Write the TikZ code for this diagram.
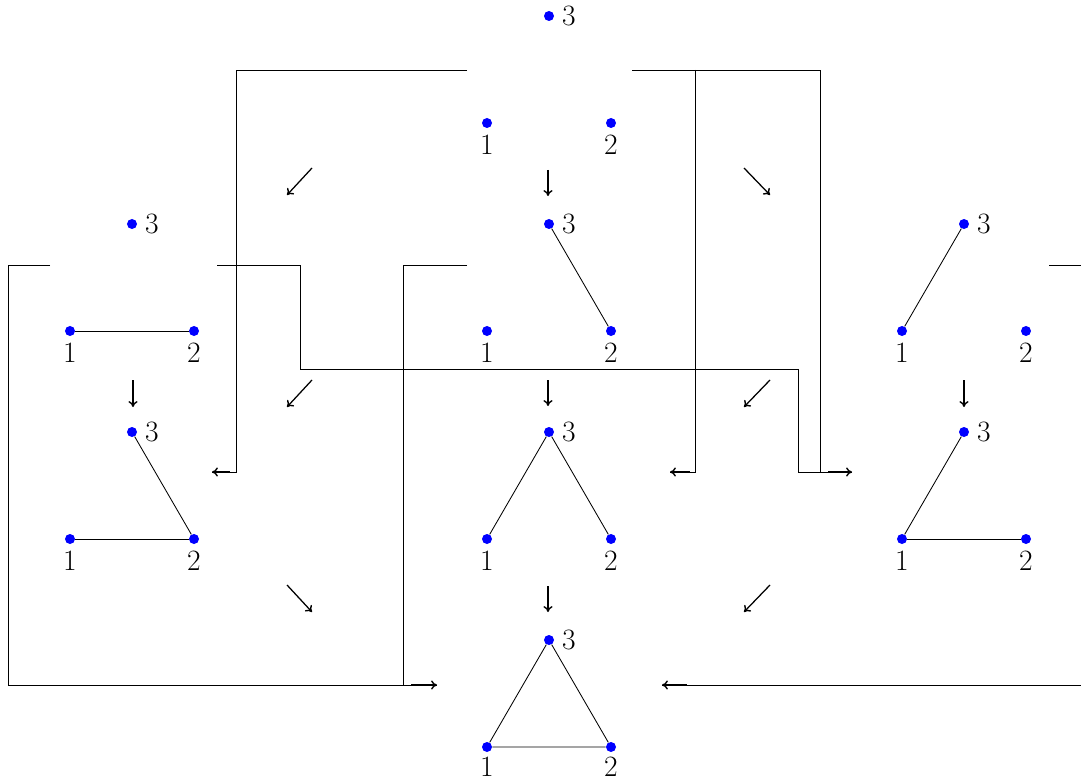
\documentclass[tikz,border=0pt]{standalone}
\usetikzlibrary{arrows.meta}
\begin{document}
\begin{tikzpicture}[x=0.025cm,y=-0.025cm,
  vtx/.style={circle,fill=blue,inner sep=0pt,minimum size=0.25cm},
  lbl/.style={inner sep=0pt,font=\fontsize{21}{25}\selectfont},
  edge/.style={line width=0.6pt},
  tip/.style={-{To[length=4.2pt,width=6.5pt,line width=1pt]}},
  mor/.style={tip,line width=0.9pt},
  wire/.style={line width=0.6pt}]
\useasboundingbox (0,0) rectangle (1081,782);
\newcommand\gph[4]{%
  \node[vtx] (#1a) at (#2,#3) {};
  \node[vtx] (#1b) at ({#2+124},#3) {};
  \node[vtx] (#1c) at ({#2+62},{#3-107}) {};
  \node[lbl] (#1la) at (#2,{#3+#4}) {1};
  \node[lbl] (#1lb) at ({#2+124},{#3+#4}) {2};
  \node[lbl] (#1lc) at ({#2+82},{#3-107}) {3};
}
\newcommand\mymor[5]{%
  \coordinate (#1s) at (#2,#3);
  \coordinate (#1e) at (#4,#5);
  \draw[mor] (#1s) -- (#1e);
}
% graphs
\gph{T}{487}{123}{22}
\gph{LA}{70}{331}{22}
\gph{CA}{487}{331}{22}
\gph{RA}{902}{331}{22}
\gph{LB}{70}{539}{22}
\gph{CB}{487}{539}{22}
\gph{RB}{902}{539}{22}
\gph{B}{487}{747}{20}
% edges
\draw[edge] (LAa) -- (LAb);
\draw[edge] (CAc) -- (CAb);
\draw[edge] (RAc) -- (RAa);
\draw[edge] (LBa) -- (LBb);
\draw[edge] (LBc) -- (LBb);
\draw[edge] (CBc) -- (CBa);
\draw[edge] (CBc) -- (CBb);
\draw[edge] (RBc) -- (RBa);
\draw[edge] (RBa) -- (RBb);
\draw[edge] (Ba) -- (Bb) -- (Bc) -- (Ba);
% short morphisms
\mymor{d1}{548}{170}{548}{196}
\mymor{d2}{548}{380}{548}{406}
\mymor{d3}{548}{586}{548}{612}
\mymor{d4}{133}{380}{133}{407}
\mymor{d5}{964}{380}{964}{407}
\mymor{g1}{312}{168}{287}{195}
\mymor{g2}{744}{168}{770}{195}
\mymor{g3}{312}{380}{287}{407}
\mymor{g4}{770}{380}{744}{407}
\mymor{g5}{287}{585}{312}{612}
\mymor{g6}{770}{585}{744}{612}
% long wires
\coordinate (w1s) at (467,70);  \coordinate (w1e) at (212,472);
\draw[wire] (w1s) -- (236,70) -- (236,472) -- (w1e);
\draw[mor] (230,472) -- (w1e);
\coordinate (w2s) at (632,70);  \coordinate (w2e) at (852,472);
\draw[wire] (w2s) -- (820,70) -- (820,472) -- (w2e);
\draw[mor] (828,472) -- (w2e);
\coordinate (w3s) at (695,70);  \coordinate (w3e) at (670,472);
\draw[wire] (w3s) -- (695,472) -- (w3e);
\draw[mor] (690,472) -- (w3e);
\coordinate (w4s) at (217,265); \coordinate (w4e) at (820,472);
\draw[wire] (w4s) -- (300,265) -- (300,369) -- (798,369) -- (798,472) -- (w4e);
\coordinate (w5s) at (50,265);  \coordinate (w5e) at (437,685);
\draw[wire] (w5s) -- (8,265) -- (8,685) -- (w5e);
\draw[mor] (411,685) -- (w5e);
\coordinate (w6s) at (467,265); \coordinate (w6e) at (403,685);
\draw[wire] (w6s) -- (403,265) -- (w6e);
\coordinate (w7s) at (1049,265); \coordinate (w7e) at (1081,265);
\draw[wire] (w7s) -- (w7e);
\coordinate (w8s) at (1081,685); \coordinate (w8e) at (662,685);
\draw[wire] (w8s) -- (w8e);
\draw[mor] (687,685) -- (w8e);
\end{tikzpicture}
\end{document}
